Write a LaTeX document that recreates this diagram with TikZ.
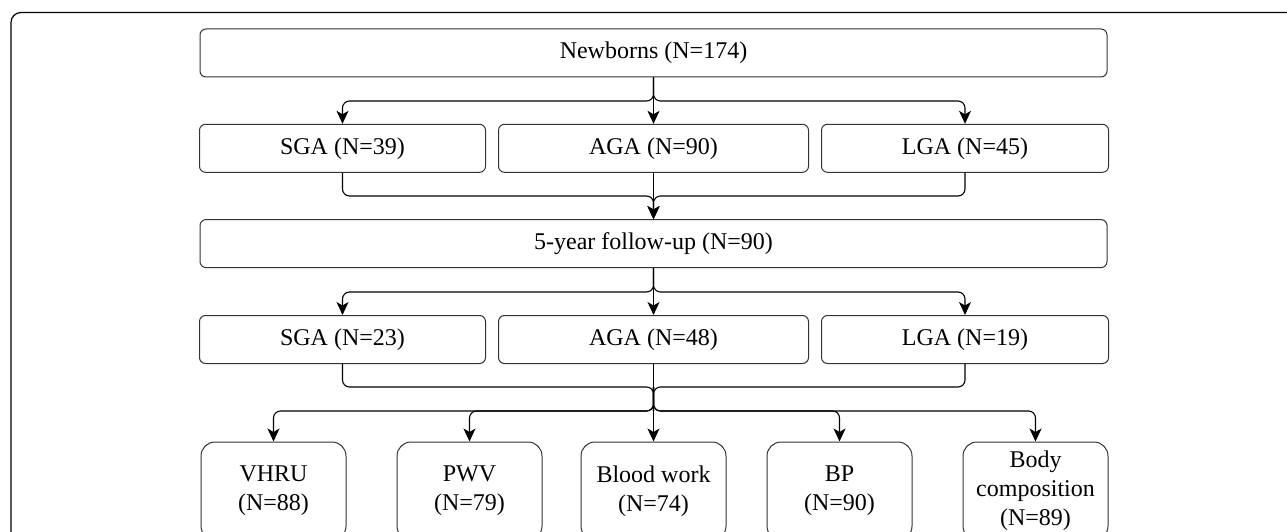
\documentclass[tikz,border=0pt]{standalone}
\usepackage{fontspec}
\setmainfont{Liberation Serif}
\usetikzlibrary{positioning,arrows.meta}

\begin{document}
\begin{tikzpicture}[x=1pt, y=-1pt, font=\fontsize{24}{29}\selectfont, node distance=12pt,
  caja/.style={draw=black!80, line width=1pt, rounded corners=6pt, minimum height=48pt, inner sep=0pt, align=center},
  medida/.style={draw=black!80, line width=1pt, rounded corners=14pt, minimum width=145pt, minimum height=98pt, inner sep=0pt, align=center},
  linea/.style={line width=1.1pt, rounded corners=7pt},
  flecha/.style={linea, -{Stealth[length=13pt,width=12pt,inset=3.5pt]}}]
  \useasboundingbox (0,0) rectangle (1287,532);
  \clip (0,0) rectangle (1287,532);
  \draw[line width=1.2pt, rounded corners=10pt] (11,12.5) rectangle (1320,570);

  \node[caja, minimum width=907pt] (nb) at (653.5,53) {Newborns (N=174)};
  \node[caja, minimum width=310pt] (aga1) at (653.5,148.3) {AGA (N=90)};
  \node[caja, minimum width=286pt, left=of aga1]  (sga1) {SGA (N=39)};
  \node[caja, minimum width=287pt, right=of aga1] (lga1) {LGA (N=45)};

  \node[caja, minimum width=907pt] (fu) at (653.5,243.6) {5-year follow-up (N=90)};
  \node[caja, minimum width=310pt] (aga2) at (653.5,339.5) {AGA (N=48)};
  \node[caja, minimum width=286pt, left=of aga2]  (sga2) {SGA (N=23)};
  \node[caja, minimum width=287pt, right=of aga2] (lga2) {LGA (N=19)};

  \node[medida] (vhru)  at (273.5,491)  {VHRU\\(N=88)};
  \node[medida] (pwv)   at (469.5,491)  {PWV\\(N=79)};
  \node[medida] (blood) at (653.5,491)  {Blood work\\(N=74)};
  \node[medida] (bp)    at (839.5,491)  {BP\\(N=90)};
  \node[medida] (body)  at (1035.5,491) {Body\\composition\\(N=89)};

  % junctions
  \coordinate (r1) at (653.5,101);
  \coordinate (m1) at (653.5,196);
  \coordinate (r2) at (653.5,292);
  \coordinate (m2) at (653.5,387);
  \coordinate (r3) at (653.5,411);

  \draw[flecha] (nb.south) -- (aga1.north);
  \draw[flecha] (nb.south) -- (r1) -| (sga1.north);
  \draw[flecha] (nb.south) -- (r1) -| (lga1.north);
  \draw[flecha] (aga1.south) -- (fu.north);
  \draw[flecha] (sga1.south) |- (m1) -- (fu.north);
  \draw[flecha] (lga1.south) |- (m1) -- (fu.north);

  \draw[flecha] (fu.south) -- (aga2.north);
  \draw[flecha] (fu.south) -- (r2) -| (sga2.north);
  \draw[flecha] (fu.south) -- (r2) -| (lga2.north);
  \draw[flecha] (aga2.south) -- (blood.north);
  \draw[linea] (sga2.south) |- (m2) -- (r3);
  \draw[linea] (lga2.south) |- (m2) -- (r3);
  \draw[flecha] (m2) -- (r3) -| (vhru.north);
  \draw[flecha] (m2) -- (r3) -| (pwv.north);
  \draw[flecha] (m2) -- (r3) -| (bp.north);
  \draw[flecha] (m2) -- (r3) -| (body.north);
\end{tikzpicture}
\end{document}
